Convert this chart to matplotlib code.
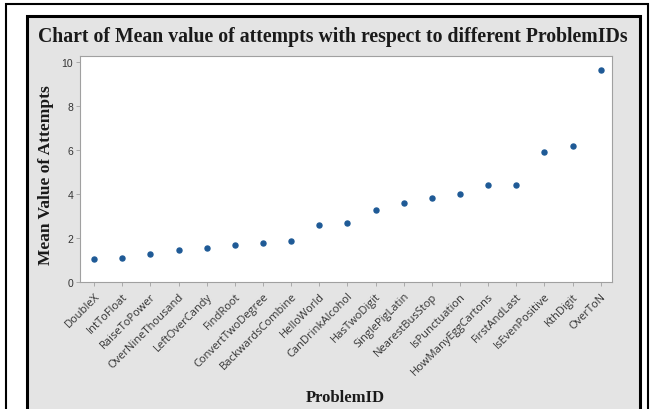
import matplotlib
matplotlib.use("Agg")
import matplotlib.pyplot as plt
from matplotlib.patches import Rectangle

problems = ["DoubleX", "IntToFloat", "RaiseToPower", "OverNineThousand",
            "LeftOverCandy", "FindRoot", "ConvertTwoDegree", "BackwardsCombine",
            "HelloWorld", "CanDrinkAlcohol", "HasTwoDigit", "SinglePigLatin",
            "NearestBusStop", "IsPunctuation", "HowManyEggCartons", "FirstAndLast",
            "IsEvenPositive", "KthDigit", "OverToN"]
mean_attempts = [1.05, 1.1, 1.25, 1.45, 1.55, 1.7, 1.75, 1.85, 2.6, 2.7,
                 3.25, 3.6, 3.8, 4.0, 4.4, 4.4, 5.9, 6.2, 9.65]
yticks = [0, 2, 4, 6, 8, 10]

fig = plt.figure(figsize=(6.52, 4.10), dpi=100)
fig.patch.set_facecolor("white")

# outer frame and grey panel
fig.patches.append(Rectangle((0.0092, -0.05), 0.985, 1.038, transform=fig.transFigure,
                             facecolor="white", edgecolor="black", lw=1.5, zorder=-2))
fig.patches.append(Rectangle((0.041, -0.05), 0.941, 1.0085, transform=fig.transFigure,
                             facecolor="#e4e4e4", edgecolor="black", lw=2.2, zorder=-1))

ax = fig.add_axes([0.1227, 0.3098, 0.816, 0.551])
ax.set_zorder(2)
ax.set_facecolor("white")
x = list(range(len(problems)))
ax.scatter(x, mean_attempts, s=13, color="#1f5a96", zorder=3)

ax.set_xlim(-0.5, 18.4)
ax.set_ylim(0, 10.27)
ax.set_yticks(yticks)
ax.set_yticklabels([str(v) for v in yticks], fontsize=7.5, family="Liberation Sans",
                   color="#333333")
ax.set_xticks(x)
ax.set_xticklabels(problems, rotation=45, ha="right", rotation_mode="anchor",
                   fontsize=8, color="#333333", family="Open Sans")
for sp in ax.spines.values():
    sp.set_color("#a0a0a0")
    sp.set_linewidth(0.8)
ax.tick_params(axis="both", length=3, width=0.6, color="#a0a0a0", pad=2)
ax.tick_params(axis="x", pad=3)

serif = "Liberation Serif"
fig.text(0.511, 0.91, "Chart of Mean value of attempts with respect to different ProblemIDs",
         ha="center", va="center", fontsize=14.2, fontweight="bold",
         family=serif, color="#1a1a1a", zorder=5)
fig.text(0.071, 0.573, "Mean Value of Attempts", rotation=90, ha="center", va="center",
         fontsize=12.5, fontweight="bold", family=serif, color="#1a1a1a", zorder=5)
fig.text(0.53, 0.03, "ProblemID", ha="center", va="center",
         fontsize=12, fontweight="bold", family=serif, color="#1a1a1a", zorder=5)

fig.savefig("out.png", dpi=100)
